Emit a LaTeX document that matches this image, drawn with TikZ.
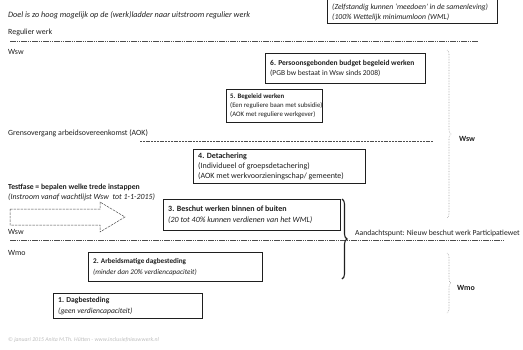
\documentclass[tikz,border=0pt]{standalone}
\usepackage{fontspec}
\setmainfont{Carlito}
\usetikzlibrary{decorations.pathreplacing}
\definecolor{ink}{gray}{0.12}
\definecolor{linecol}{gray}{0.3}
\begin{document}
\begin{tikzpicture}[x=1pt,y=-1pt,
  every node/.style={text=ink},
  lab/.style={anchor=west, inner sep=0pt, font=\fontsize{7.9}{9}\selectfont},
  box/.style={draw=ink, line width=0.8pt, anchor=north west, inner sep=0pt},
  txt/.style={anchor=west, inner sep=0pt, align=left},
  dline/.style={draw=linecol, line width=0.7pt, double=white, double distance=0.9pt, dash pattern=on 1.6pt off 0.6pt},
  sline/.style={draw=linecol, line width=0.5pt, dash pattern=on 2pt off 0.8pt},
  dbrace/.style={draw=gray!70, densely dotted, line width=0.6pt, decorate, decoration={brace, amplitude=4pt}},
  sbrace/.style={draw=ink, line width=1.1pt, decorate, decoration={brace, amplitude=5pt}},
  darrow/.style={draw=linecol, line width=0.5pt, dash pattern=on 2.5pt off 1pt}
]
\useasboundingbox (0,0) rectangle (523,349);
\clip (0,0) rectangle (523,349);
\fill[white] (0,0) rectangle (523,349);

% top box (partly cut off)
\node[box, anchor=south west, minimum width=170pt, minimum height=30pt] (b7) at (327,24) {};
\node[txt, font=\fontsize{7.7}{10}\selectfont\itshape] (b7t) at ([xshift=5pt,yshift=-4pt]b7.west)
  {(Zelfstandig kunnen `meedoen' in de samenleving)\\(100\% Wettelijk minimumloon (WML)};

% left labels
\node[lab, font=\fontsize{8.2}{9}\selectfont\itshape] (doel) at (8,15) {Doel is zo hoog mogelijk op de (werk)ladder naar uitstroom regulier werk};
\node[lab] (reg) at (8,32) {Regulier werk};
\node[lab] (wsw1) at (8,52) {Wsw};
\node[lab] (grens) at (8,133) {Grensovergang arbeidsovereenkomst (AOK)};
\node[lab, font=\fontsize{7.7}{9}\selectfont\bfseries] (test) at (8,187) {Testfase = bepalen welke trede instappen};
\node[lab, font=\fontsize{7.9}{9}\selectfont\itshape] (instr) at (8,197) {(Instroom vanaf wachtlijst Wsw\ \ tot 1-1-2015)};
\node[lab] (wsw2) at (8,232) {Wsw};
\node[lab] (wmo1) at (8,253) {Wmo};

% horizontal lines
\coordinate (r1) at (10,42); \coordinate (r2) at (478,42);
\draw[dline] (r1) -- (r2);
\coordinate (a1) at (140,141); \coordinate (a2) at (433,141);
\draw[sline] (a1) -- (a2);
\coordinate (w1) at (10,241); \coordinate (w2) at (503,241);
\draw[dline] (w1) -- (w2);

% boxes
\node[box, minimum width=160pt, minimum height=30pt] (b6) at (265,53) {};
\node[txt, font=\fontsize{7.5}{10.5}\selectfont] (b6t) at ([xshift=5pt]b6.west)
  {\textbf{6. Persoonsgebonden budget begeleid werken}\\(PGB bw bestaat in Wsw sinds 2008)};
\node[box, minimum width=96pt, minimum height=33pt] (b5) at (226,89) {};
\node[txt, font=\fontsize{6.8}{9}\selectfont] (b5t) at ([xshift=4pt]b5.west)
  {\textbf{5. Begeleid werken}\\(Een reguliere baan met subsidie)\\(AOK met reguliere werkgever)};
\node[box, minimum width=172pt, minimum height=34pt] (b4) at (193,149) {};
\node[txt, font=\fontsize{8}{10}\selectfont] (b4t) at ([xshift=5pt]b4.west)
  {\textbf{4. Detachering}\\(Individueel of groepsdetachering)\\(AOK met werkvoorzieningschap/ gemeente)};
\node[box, minimum width=177pt, minimum height=31pt] (b3) at (163,199) {};
\node[txt, font=\fontsize{8}{11.5}\selectfont] (b3t) at ([xshift=5pt]b3.west)
  {\textbf{3. Beschut werken binnen of buiten}\\\textit{(20 tot 40\% kunnen verdienen van het WML)}};
\node[box, minimum width=174pt, minimum height=29pt] (b2) at (88,252) {};
\node[txt, font=\fontsize{7.2}{10.5}\selectfont] (b2t) at ([xshift=5pt]b2.west)
  {\textbf{2. Arbeidsmatige dagbesteding}\\\textit{(minder dan 20\% verdiencapaciteit)}};
\node[box, minimum width=149pt, minimum height=25pt] (b1) at (53,293) {};
\node[txt, font=\fontsize{7.6}{10.5}\selectfont] (b1t) at ([xshift=5pt]b1.west)
  {\textbf{1. Dagbesteding}\\\textit{(geen verdiencapaciteit)}};

% block arrow
\draw[darrow] (10,209) -- (100,209) -- (100,202) -- (125,217) -- (100,232) -- (100,225) -- (10,225) -- cycle;

% braces
\coordinate (bt1) at (447,50); \coordinate (bb1) at (447,218);
\draw[dbrace] (bt1) -- (bb1);
\node[lab, font=\fontsize{7.9}{9}\selectfont\bfseries] (wsw3) at (459,139) {Wsw};
\coordinate (st) at (342,199); \coordinate (sb) at (342,279);
\draw[sbrace] (st) -- (sb);
\node[lab, font=\fontsize{7.7}{9}\selectfont] (aand) at (355,233) {Aandachtspunt: Nieuw beschut werk Participatiewet};
\coordinate (bt2) at (447,253); \coordinate (bb2) at (447,313);
\draw[dbrace] (bt2) -- (bb2);
\node[lab, font=\fontsize{7.9}{9}\selectfont\bfseries] (wmo2) at (457,288) {Wmo};

% footer
\node[lab, font=\fontsize{5.8}{7}\selectfont\itshape, text=gray!50] (foot) at (8,340) {\textcopyright{} januari 2015 Anita M.Th. H\"utten - www.inclusiefnieuwwerk.nl};
\end{tikzpicture}
\end{document}
